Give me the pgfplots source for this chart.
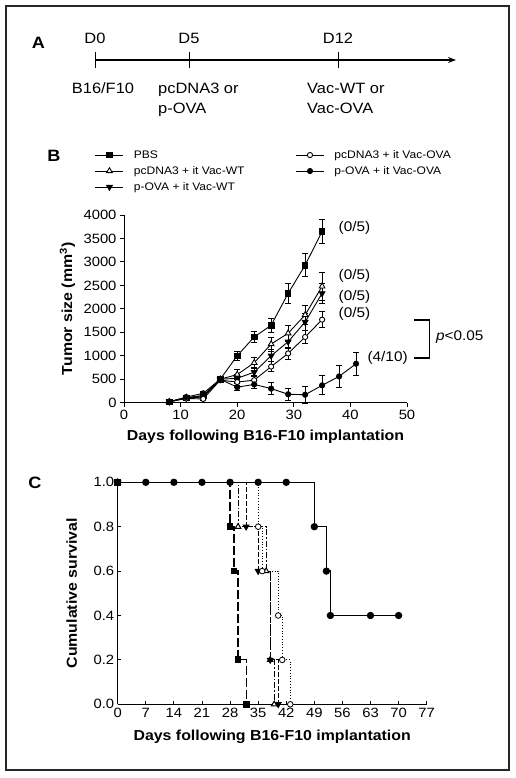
\documentclass[border=0pt]{standalone}
\usepackage{fontspec}
\setmainfont{Liberation Sans}[FakeStretch=1.1]
\usepackage{pgfplots}
\pgfplotsset{compat=1.18}
\usetikzlibrary{arrows.meta}
\newcommand{\Afont}{\fontsize{15}{18}\selectfont}
\newcommand{\tickfont}{\fontsize{13.5}{16}\selectfont}
\newcommand{\labfont}{\fontsize{14.5}{17}\selectfont\bfseries}
\newcommand{\legfont}{\fontsize{11}{13}\selectfont}
\newcommand{\annfont}{\fontsize{14}{16}\selectfont}
\newcommand{\panfont}{\fontsize{16.5}{19}\selectfont\bfseries}
\pgfplotsset{
  common/.style={
    scale only axis,
    axis x line*=bottom, axis y line*=left,
    every tick/.style={black, line width=0.9bp},
    tick label style={font=\tickfont},
    /pgf/number format/assume math mode=true,
    /pgf/number format/1000 sep={},
    label style={font=\labfont},
    xlabel={Days following B16-F10 implantation},
    clip=false,
  },
  eb/.style={error bars/y dir=both, error bars/y explicit,
    error bars/error mark options={rotate=90, mark size=3bp, line width=0.9bp, solid, black},
    error bars/error bar style={line width=0.9bp, solid, black}},
}
\begin{document}
\begin{tikzpicture}
\useasboundingbox (0bp,0bp) rectangle (516bp,778bp);
\draw[line width=1.2bp, black!85] (6bp,8bp) rectangle (509bp,772bp);
% ---------- Panel A ----------
\node[font=\panfont, anchor=base, inner sep=0] at (38.5bp,729.7bp) {A};
\draw[line width=1.6bp,-{Stealth[length=8bp,width=6bp]}] (95bp,718bp) -- (456bp,718bp);
\foreach \x in {95,189,338} \draw[line width=1bp] (\x bp,710bp) -- (\x bp,726bp);
\node[font=\Afont, anchor=base, inner sep=0] at (95bp,734.4bp) {D0};
\node[font=\Afont, anchor=base, inner sep=0] at (189bp,734.4bp) {D5};
\node[font=\Afont, anchor=base, inner sep=0] at (338bp,734.4bp) {D12};
\node[font=\Afont, anchor=base, inner sep=0] at (103bp,684.7bp) {B16/F10};
\node[font=\Afont, anchor=base west, inner sep=0] at (158bp,684.7bp) {pcDNA3 or};
\node[font=\Afont, anchor=base west, inner sep=0] at (158bp,664.7bp) {p-OVA};
\node[font=\Afont, anchor=base west, inner sep=0] at (307bp,684.7bp) {Vac-WT or};
\node[font=\Afont, anchor=base west, inner sep=0] at (307bp,664.7bp) {Vac-OVA};
% ---------- Panel B ----------
\node[font=\panfont, anchor=base, inner sep=0] at (54bp,616bp) {B};
\begin{axis}[common,
  at={(124bp,375.3bp)}, anchor=south west, width=283bp, height=187.7bp,
  xmin=0, xmax=50, ymin=0, ymax=4000,
  axis line style={line width=0.9bp},
  xtick={0,10,...,50}, ytick={0,500,...,4000},
  tick align=outside, major tick length=4bp,
  scaled y ticks=false,
  ylabel={Tumor size (mm\textsuperscript{3})},
  xlabel style={at={(axis description cs:0.5,-0.184)}, anchor=center},
  ylabel style={at={(axis description cs:-0.2,0.5)}, anchor=center},
  legend columns=3, transpose legend,
  legend image code/.code={
    \draw[mark repeat=2,mark phase=2,#1] plot coordinates {(0bp,0bp) (14bp,0bp) (28bp,0bp)};},
  legend style={at={(-0.1025,1.362)}, anchor=north west, draw=none, fill=none,
    inner sep=0pt, outer sep=0pt, font=\legfont,
    nodes={inner xsep=0bp, inner ysep=2.5bp, text height=8.5bp, text depth=2.5bp},
    /tikz/column 1/.style={column sep=10bp},
    /tikz/column 2/.style={column sep=51bp},
    /tikz/column 3/.style={column sep=10bp}},
  legend cell align=left,
]
\addplot[black, line width=0.9bp, mark=square*, mark size=2.8bp, eb]
  table[x=x, y=y, y error=e] {
x y e
8 20 10
11 100 40
14 150 40
17 500 50
20 1000 90
23 1400 110
26 1650 150
29 2330 220
32 2930 240
35 3650 250
};
\addlegendentry{PBS}
\addplot[black, line width=0.9bp, mark=triangle*, mark size=3.3bp, mark options={fill=white}, eb]
  table[x=x, y=y, y error=e] {
x y e
8 20 10
11 110 40
14 150 40
17 500 50
20 600 100
23 850 120
26 1250 150
29 1480 170
32 1870 200
35 2480 300
};
\addlegendentry{pcDNA3 + it Vac-WT}
\addplot[black, line width=0.9bp, mark=triangle*, mark size=3.3bp, mark options={rotate=180, fill=black}, eb]
  table[x=x, y=y, y error=e] {
x y e
8 20 10
11 100 40
14 120 40
17 500 50
20 520 80
23 650 100
26 1000 130
29 1300 150
32 1720 180
35 2330 220
};
\addlegendentry{p-OVA + it Vac-WT}
\addplot[black, line width=0.9bp, mark=*, mark size=2.6bp, mark options={fill=white}, eb]
  table[x=x, y=y, y error=e] {
x y e
8 20 10
11 90 40
14 80 40
17 480 50
20 440 80
23 480 90
26 770 110
29 1050 120
32 1400 140
35 1770 170
};
\addlegendentry{pcDNA3 + it Vac-OVA}
\addplot[black, line width=0.9bp, mark=*, mark size=2.6bp, mark options={fill=black}, eb]
  table[x=x, y=y, y error=e] {
x y e
8 20 10
11 120 40
14 200 40
17 500 50
20 330 70
23 390 80
26 300 130
29 180 130
32 170 180
35 370 200
38 560 240
41 830 250
};
\addlegendentry{p-OVA + it Vac-OVA}
\node[font=\annfont, anchor=west, inner sep=0] at (axis cs:37.9,3720) {(0/5)};
\node[font=\annfont, anchor=west, inner sep=0] at (axis cs:37.9,2700) {(0/5)};
\node[font=\annfont, anchor=west, inner sep=0] at (axis cs:37.9,2250) {(0/5)};
\node[font=\annfont, anchor=west, inner sep=0] at (axis cs:37.9,1890) {(0/5)};
\node[font=\annfont, anchor=west, inner sep=0] at (axis cs:43,950) {(4/10)};
\draw[line width=1.2bp] (axis cs:51.3,1762) -- (axis cs:54,1762) -- (axis cs:54,953) -- (axis cs:51.3,953);
\node[font=\annfont, anchor=west, inner sep=0] at (axis cs:55.1,1400) {\textit{p}<0.05};
\end{axis}
% ---------- Panel C ----------
\node[font=\panfont, anchor=base, inner sep=0] at (35bp,289bp) {C};
\begin{axis}[common,
  at={(117.7bp,73.7bp)}, anchor=south west, width=309bp, height=222bp,
  xmin=0, xmax=77, ymin=0, ymax=1,
  axis line style={line width=1.3bp},
  xtick={0,7,...,77}, ytick={0,0.2,0.4,0.6,0.8,1.0},
  yticklabel style={/pgf/number format/.cd, fixed, fixed zerofill, precision=1},
  tick align=inside, major tick length=3bp,
  ylabel={Cumulative survival},
  xlabel style={at={(axis description cs:0.5,-0.146)}, anchor=center},
  ylabel style={at={(axis description cs:-0.149,0.5)}, anchor=center},
]
\addplot[const plot, black, line width=1.2bp, dash pattern=on 9bp off 3bp,
  mark=square*, mark size=2.8bp, mark options={solid, fill=black}]
  coordinates {(0,1) (28,0.8) (29,0.6) (30,0.2) (32,0)};
\addplot[const plot, black, line width=1bp, dash pattern=on 6bp off 2bp on 1.5bp off 2bp,
  mark=triangle*, mark size=3.2bp, mark options={solid, fill=white}]
  coordinates {(0,1) (30,0.8) (37,0.6) (38,0.2) (39,0)};
\addplot[const plot, black, line width=1bp, dash pattern=on 5bp off 2bp,
  mark=triangle*, mark size=3.2bp, mark options={solid, rotate=180, fill=black}]
  coordinates {(0,1) (32,0.8) (35,0.6) (38,0.2) (40,0)};
\addplot[const plot, black, line width=0.8bp, dotted,
  mark=*, mark size=2.8bp, mark options={solid, fill=white}]
  coordinates {(0,1) (35,0.8) (36,0.6) (40,0.4) (41,0.2) (43,0)};
\addplot[const plot, black, line width=1.3bp,
  mark=*, mark size=3bp, mark options={solid, fill=black}]
  coordinates {(0,1) (7,1) (14,1) (21,1) (28,1) (35,1) (42,1) (49,0.8) (52,0.6) (53,0.4) (63,0.4) (70,0.4)};
\end{axis}
\end{tikzpicture}
\end{document}
